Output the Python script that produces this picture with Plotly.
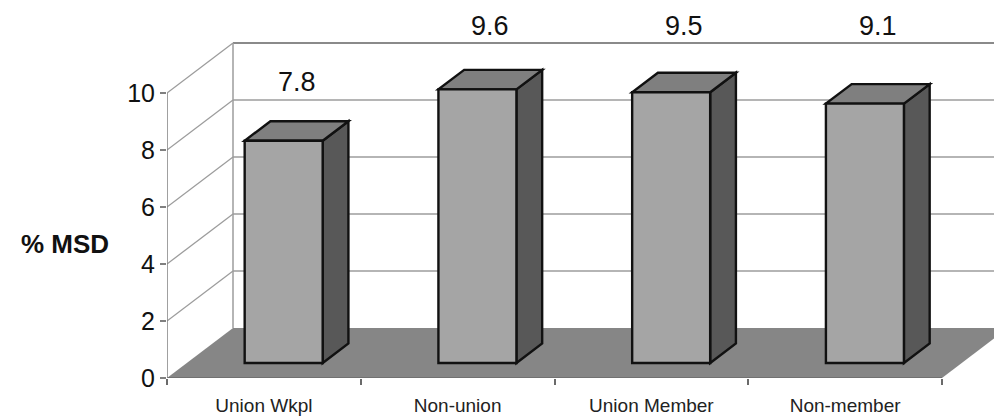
import numpy as np
import plotly.graph_objects as go

# ---- data ----
categories = ["Union Wkpl", "Non-union", "Union Member", "Non-member"]
msd_pct = [7.8, 9.6, 9.5, 9.1]
y_ticks = [0, 2, 4, 6, 8, 10]

# ---- pseudo-3D geometry (in axis units) ----
PX_PER_CAT = 193.75           # pixel width of one category slot
PX_PER_UNIT = 28.5            # pixels per % unit
DX = 66 / PX_PER_CAT          # floor depth, horizontal shift
DY = 50 / PX_PER_UNIT         # floor depth, vertical shift
BAR_W = 78 / PX_PER_CAT       # bar front-face width
D_FRONT, D_BACK = 0.30, 0.69  # bar position along the depth
Y_TOP = max(y_ticks)
N = len(categories)

W, H = 994, 416
ML, MB = 167, 38
x_max = (W - ML) / PX_PER_CAT
y_max = (H - MB) / PX_PER_UNIT

FRONT_C = "#a5a5a5"
TOP_C = "#7f7f7f"
SIDE_C = "#585858"
FLOOR_C = "#868686"
GRID_C = "#9c9c9c"
EDGE_C = "#111111"


def poly(pts):
    return "M " + " L ".join(f"{x:.5f},{y:.5f}" for x, y in pts) + " Z"


shapes = []

# floor
shapes.append(dict(type="path", xref="x", yref="y", layer="above",
                   path=poly([(0, 0), (DX, DY), (N + DX, DY), (N, 0)]),
                   fillcolor=FLOOR_C, line=dict(width=0)))
shapes.append(dict(type="line", xref="x", yref="y", x0=0, y0=0, x1=N, y1=0,
                   line=dict(color="#6a6a6a", width=1.5)))

# walls: back-wall gridlines and left-wall diagonals
for v in y_ticks[1:]:
    shapes.append(dict(type="line", xref="x", yref="y",
                       x0=DX, y0=v + DY, x1=x_max + 1, y1=v + DY,
                       line=dict(color=GRID_C if v < Y_TOP else "#8a8a8a",
                                 width=1.5 if v < Y_TOP else 2.2)))
    shapes.append(dict(type="line", xref="x", yref="y",
                       x0=0, y0=v, x1=DX, y1=v + DY,
                       line=dict(color=GRID_C, width=1.3)))
shapes.append(dict(type="line", xref="x", yref="y", x0=DX, y0=DY, x1=DX, y1=Y_TOP + DY,
                   line=dict(color=GRID_C, width=1.5)))
# front value axis
shapes.append(dict(type="line", xref="x", yref="y", x0=0, y0=0, x1=0, y1=Y_TOP,
                   line=dict(color="#808080", width=1.5)))

# bars
dxb = (D_BACK - D_FRONT) * DX
dyb = (D_BACK - D_FRONT) * DY
y0 = D_FRONT * DY
for i, v in enumerate(msd_pct):
    xl = i + 0.5 - BAR_W / 2 + D_FRONT * DX
    xr = xl + BAR_W
    side = [(xr, y0), (xr, y0 + v), (xr + dxb, y0 + v + dyb), (xr + dxb, y0 + dyb)]
    top = [(xl, y0 + v), (xr, y0 + v), (xr + dxb, y0 + v + dyb), (xl + dxb, y0 + v + dyb)]
    front = [(xl, y0), (xr, y0), (xr, y0 + v), (xl, y0 + v)]
    for pts, col in ((side, SIDE_C), (top, TOP_C), (front, FRONT_C)):
        shapes.append(dict(type="path", xref="x", yref="y", layer="above",
                           path=poly(pts), fillcolor=col,
                           line=dict(color=EDGE_C, width=2.4)))

# value labels above each bar; lifted over the wall edge when they would touch it
LBL_GAP = 2.59
wall_top = Y_TOP + DY
annotations = []
for i, v in enumerate(msd_pct):
    ly = v + LBL_GAP
    if ly > wall_top - 0.6:
        ly = wall_top + 0.6
    annotations.append(dict(x=i + 0.5 + (D_FRONT + D_BACK) / 2 * DX, y=ly,
                            xref="x", yref="y", text=f"{v:.1f}", showarrow=False,
                            xanchor="center", yanchor="middle",
                            font=dict(size=27, color="#111111",
                                      family="Liberation Sans, Arial, sans-serif")))

# horizontal value-axis title
annotations.append(dict(x=(65 - ML) / (W - ML), y=(378 - 244) / 378,
                        xref="paper", yref="paper", text="<b>% MSD</b>", showarrow=False,
                        xanchor="center", yanchor="middle",
                        font=dict(size=26, color="#111111",
                                  family="Liberation Sans, Arial, sans-serif")))

fig = go.Figure()
fig.add_trace(go.Scatter(x=[0, N], y=[0, Y_TOP], mode="markers",
                         marker=dict(opacity=0), hoverinfo="skip", showlegend=False))

fig.update_layout(
    width=W, height=H,
    margin=dict(l=ML, r=0, t=0, b=MB),
    paper_bgcolor="white", plot_bgcolor="white",
    shapes=shapes, annotations=annotations,
    showlegend=False,
    xaxis=dict(range=[0, x_max], showgrid=False, zeroline=False, showline=False,
               tickvals=[i + 0.5 for i in range(N)], ticktext=categories,
               ticks="outside", ticklen=10, tickcolor="rgba(0,0,0,0)",
               tickfont=dict(size=19, color="#222222",
                             family="Liberation Sans Narrow, Arial Narrow, Liberation Sans"),
               minor=dict(tickvals=list(range(N + 1)), ticks="outside", ticklen=6,
                          tickcolor="#6a6a6a", tickwidth=1.5),
               fixedrange=True),
    yaxis=dict(range=[0, y_max], showgrid=False, zeroline=False, showline=False,
               tickvals=y_ticks, ticktext=[str(t) for t in y_ticks],
               ticks="outside", ticklen=6, tickcolor="#808080", tickwidth=1.5,
               tickfont=dict(size=25, color="#111111",
                             family="Liberation Sans, Arial, sans-serif"),
               fixedrange=True),
)

fig.write_html("out.html")
